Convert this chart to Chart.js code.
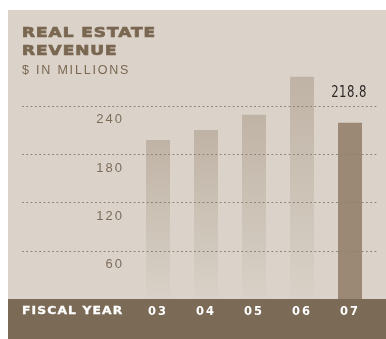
<!DOCTYPE html>
<html><head><meta charset="utf-8">
<script src="https://cdn.jsdelivr.net/npm/chart.js@4.4.0/dist/chart.umd.min.js"></script>
<style>html,body{margin:0;padding:0;background:#fff}canvas{display:block}</style>
</head><body>
<canvas id="c" width="386" height="339"></canvas>
<script>
// Real estate revenue by fiscal year, $ in millions
const years = ['03', '04', '05', '06', '07'];
const revenue = [197.5, 210, 229, 276, 218.8];
const yTicks = [60, 120, 180, 240];

const PANEL = '#dbd3c9';
const BAND = '#7b6a55';
const INK = '#7a6751';

function barFill(ctx) {
  if (ctx.type !== 'data') return '#c9bfb2';
  if (ctx.dataIndex === revenue.length - 1) return '#9b8976';
  const chart = ctx.chart, area = chart.chartArea;
  if (!area || !chart.scales.y) return '#c9bfb2';
  const top = chart.scales.y.getPixelForValue(ctx.raw);
  const g = chart.ctx.createLinearGradient(0, top, 0, area.bottom);
  g.addColorStop(0, '#bfb3a5');
  g.addColorStop(1, '#d9d1c7');
  return g;
}

// draw text stretched horizontally by sx, optionally thickened with a stroke
function wideText(c, txt, x, y, sx, stroke) {
  c.save();
  c.translate(x, y);
  c.scale(sx, 1);
  c.fillText(txt, 0, 0);
  if (stroke) { c.lineWidth = stroke; c.strokeText(txt, 0, 0); }
  c.restore();
}

const decor = {
  id: 'decor',
  beforeDraw(chart) {
    const c = chart.ctx, a = chart.chartArea;
    c.save();
    c.fillStyle = '#fff';
    c.fillRect(0, 0, chart.width, chart.height);
    c.fillStyle = PANEL;
    c.fillRect(8, 10, chart.width - 8, chart.height - 10);
    c.fillStyle = BAND;
    c.fillRect(8, a.bottom, chart.width - 8, chart.height - a.bottom);
    c.restore();
    // wide tracking for the axis labels
    c.letterSpacing = '2px';
  },
  afterDatasetsDraw(chart) {
    const c = chart.ctx, ys = chart.scales.y;
    c.save();
    c.letterSpacing = '0px';
    c.strokeStyle = '#8e8070';
    c.lineWidth = 1;
    c.setLineDash([1.8, 2.5]);
    yTicks.forEach(v => {
      const y = Math.round(ys.getPixelForValue(v)) + 0.5;
      c.beginPath();
      c.moveTo(22, y);
      c.lineTo(378, y);
      c.stroke();
    });
    c.restore();

    // value callout on the latest year
    const last = chart.getDatasetMeta(0).data[revenue.length - 1];
    c.save();
    c.letterSpacing = '0.5px';
    c.fillStyle = '#2b2826';
    c.font = '15px "DejaVu Sans", sans-serif';
    c.textAlign = 'center';
    c.textBaseline = 'alphabetic';
    wideText(c, revenue[revenue.length - 1].toFixed(1), last.x - 1, last.y - 26, 0.78);
    c.restore();
  },
  afterDraw(chart) {
    const c = chart.ctx, a = chart.chartArea;
    c.save();
    c.textAlign = 'left';
    c.textBaseline = 'alphabetic';
    c.fillStyle = INK;
    c.strokeStyle = INK;
    c.letterSpacing = '0.8px';
    c.font = 'bold 14px "DejaVu Sans", sans-serif';
    wideText(c, 'REAL ESTATE', 22, 37, 1.21, 0.7);
    wideText(c, 'REVENUE', 22, 55, 1.21, 0.7);
    c.letterSpacing = '1.8px';
    c.font = '12.5px "Liberation Sans", sans-serif';
    c.fillText('$ IN MILLIONS', 22, 74);
    c.fillStyle = '#fff';
    c.strokeStyle = '#fff';
    c.letterSpacing = '1px';
    c.font = 'bold 11px "DejaVu Sans", sans-serif';
    c.textBaseline = 'middle';
    wideText(c, 'FISCAL YEAR', 22, a.bottom + 12, 1.12, 0.3);
    c.restore();
    c.letterSpacing = '0px';
  }
};

new Chart(document.getElementById('c'), {
  type: 'bar',
  data: {
    labels: years,
    datasets: [{
      data: revenue,
      backgroundColor: barFill,
      borderWidth: 0,
      barPercentage: 0.5,
      categoryPercentage: 1
    }]
  },
  options: {
    responsive: false,
    animation: false,
    devicePixelRatio: 1,
    layout: { padding: { top: 73.6, right: 12, left: 0, bottom: 0 } },
    plugins: { legend: { display: false }, tooltip: { enabled: false } },
    scales: {
      x: {
        grid: { display: false, drawTicks: false },
        border: { display: false },
        ticks: { color: '#fff', font: { family: 'DejaVu Sans', weight: 'bold', size: 11.5 }, padding: 6 },
        afterFit: s => { s.height = 40; }
      },
      y: {
        min: 0,
        max: 280,
        grid: { display: false, drawTicks: false },
        border: { display: false },
        afterBuildTicks: s => { s.ticks = yTicks.map(v => ({ value: v })); },
        ticks: { color: '#7d6d5b', font: { family: 'Liberation Sans', size: 13 }, padding: 10, labelOffset: 14 },
        afterFit: s => { s.width = 134; }
      }
    }
  },
  plugins: [decor]
});
</script>
</body></html>
